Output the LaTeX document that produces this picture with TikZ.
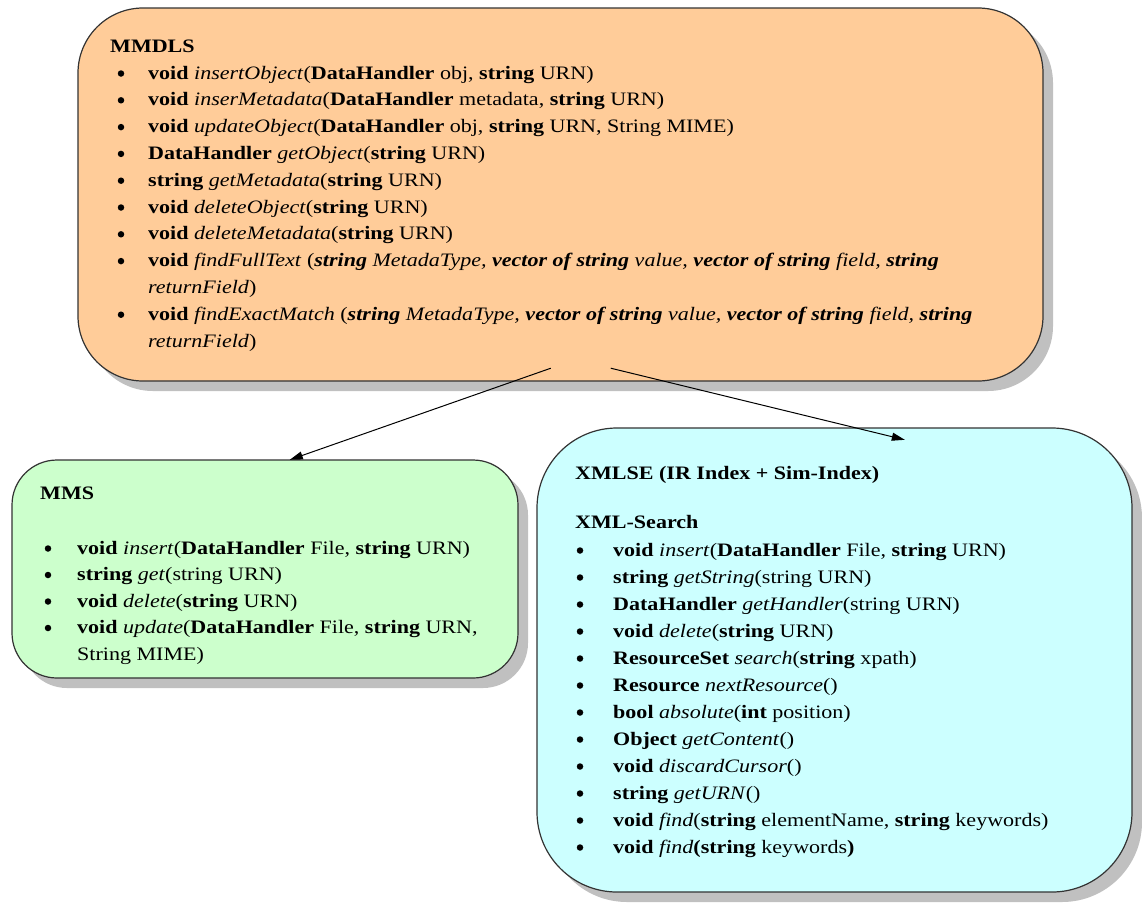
\documentclass[tikz,border=0pt]{standalone}
\usepackage{fontspec}
\setmainfont{Liberation Serif}
\usetikzlibrary{arrows.meta,calc}
\definecolor{peach}{HTML}{FFCC99}
\definecolor{mint}{HTML}{CCFFCC}
\definecolor{aqua}{HTML}{CCFFFF}
\definecolor{shadowgray}{HTML}{C0C0C0}
\definecolor{edge}{HTML}{333333}
\newcommand\myb[1]{\textbf{#1}}
\newcommand\myi[1]{\textit{#1}}
\newcommand\mybi[1]{\textbf{\textit{#1}}}
\newcommand\wide[1]{\scalebox{1.16}[1]{#1}}
\newcommand\bitem[5]{\node[bul] (#1b) at (#2+3,#4-5.5) {}; \node[ln] (#1) at (#3,#4) {\wide{#5}};}
\tikzset{
  box/.style={draw=edge, line width=1.2pt, inner sep=0pt},
  shad/.style={fill=shadowgray, draw=none},
  ln/.style={anchor=base west, inner sep=0pt, font=\fontsize{19}{27}\selectfont},
  bul/.style={circle, fill=black, inner sep=0pt, minimum size=6.5pt},
  conn/.style={line width=1pt, -{Triangle[length=13pt,width=8pt]}},
}
\begin{document}
\begin{tikzpicture}[x=1pt,y=-1pt]
\useasboundingbox (0,0) rectangle (1142,903);
% shadows
\fill[shad, rounded corners=65pt] (88,18) rectangle (1053,391);
\fill[shad, rounded corners=45pt] (22,470) rectangle (528,688);
\fill[shad, rounded corners=80pt] (547,438) rectangle (1142,902);
% boxes
\draw[box, fill=peach, rounded corners=65pt] (78,8) rectangle (1043,381);
\draw[box, fill=mint, rounded corners=45pt] (12,460) rectangle (518,678);
\draw[box, fill=aqua, rounded corners=80pt] (537,428) rectangle (1132,892);
\node[inner sep=0pt, minimum width=965pt, minimum height=373pt] (mmdls) at (560.5,194.5) {};
\node[inner sep=0pt, minimum width=506pt, minimum height=218pt] (mms) at (265,569) {};
\node[inner sep=0pt, minimum width=595pt, minimum height=464pt] (xmlse) at (834.5,660) {};
% MMDLS text
\node[ln] (h1) at (110,52) {\wide{\myb{MMDLS}}};
\bitem{a1}{118}{148}{79}{\myb{void} \myi{insertObject}(\myb{DataHandler} obj, \myb{string} URN)}
\bitem{a2}{118}{148}{105.8}{\myb{void} \myi{inserMetadata}(\myb{DataHandler} metadata, \myb{string} URN)}
\bitem{a3}{118}{148}{132.6}{\myb{void} \myi{updateObject}(\myb{DataHandler} obj, \myb{string} URN, String MIME)}
\bitem{a4}{118}{148}{159.4}{\myb{DataHandler} \myi{getObject}(\myb{string} URN)}
\bitem{a5}{118}{148}{186.2}{\myb{string} \myi{getMetadata}(\myb{string} URN)}
\bitem{a6}{118}{148}{213}{\myb{void} \myi{deleteObject}(\myb{string} URN)}
\bitem{a7}{118}{148}{239.8}{\myb{void} \myi{deleteMetadata}(\myb{string} URN)}
\bitem{a8}{118}{148}{266.6}{\myb{void} \myi{findFullText} (\mybi{string} \myi{MetadaType,} \mybi{vector of string} \myi{value,} \mybi{vector of string} \myi{field,} \mybi{string}}
\node[ln] (a8c) at (148,293.4) {\wide{\myi{returnField})}};
\bitem{a9}{118}{148}{320.2}{\myb{void} \myi{findExactMatch} (\mybi{string} \myi{MetadaType,} \mybi{vector of string} \myi{value,} \mybi{vector of string} \myi{field,} \mybi{string}}
\node[ln] (a9c) at (148,347) {\wide{\myi{returnField})}};
% MMS text
\node[ln] (h2) at (40,499) {\wide{\myb{MMS}}};
\bitem{b1}{45}{77}{554}{\myb{void} \myi{insert}(\myb{DataHandler} File, \myb{string} URN)}
\bitem{b2}{45}{77}{580.5}{\myb{string} \myi{get}(string URN)}
\bitem{b3}{45}{77}{607}{\myb{void} \myi{delete}(\myb{string} URN)}
\bitem{b4}{45}{77}{633.5}{\myb{void} \myi{update}(\myb{DataHandler} File, \myb{string} URN,}
\node[ln] (b4c) at (77,660) {\wide{String MIME)}};
% XMLSE text
\node[ln] (h3) at (575,479) {\wide{\myb{XMLSE (IR Index + Sim-Index)}}};
\node[ln] (h4) at (575,528) {\wide{\myb{XML-Search}}};
\bitem{c1}{577}{613}{556}{\myb{void} \myi{insert}(\myb{DataHandler} File, \myb{string} URN)}
\bitem{c2}{577}{613}{583}{\myb{string} \myi{getString}(string URN)}
\bitem{c3}{577}{613}{610}{\myb{DataHandler} \myi{getHandler}(string URN)}
\bitem{c4}{577}{613}{637}{\myb{void} \myi{delete}(\myb{string} URN)}
\bitem{c5}{577}{613}{664}{\myb{ResourceSet} \myi{search}(\myb{string} xpath)}
\bitem{c6}{577}{613}{691}{\myb{Resource} \myi{nextResource}()}
\bitem{c7}{577}{613}{718}{\myb{bool} \myi{absolute}(\myb{int} position)}
\bitem{c8}{577}{613}{745}{\myb{Object} \myi{getContent}()}
\bitem{c9}{577}{613}{772}{\myb{void} \myi{discardCursor}()}
\bitem{c10}{577}{613}{799}{\myb{string} \myi{getURN}()}
\bitem{c11}{577}{613}{826}{\myb{void} \myi{find}(\myb{string} elementName, \myb{string} keywords)}
\bitem{c12}{577}{613}{853}{\myb{void} \myi{find}\myb{(string} keywords\myb{)}}
% connectors
\coordinate (s1) at ($(mmdls.south west)+(473,-13)$);
\coordinate (s2) at ($(mmdls.south west)+(533,-13)$);
\coordinate (e1) at ($(mms.north west)+(278,0)$);
\coordinate (e2) at ($(xmlse.north west)+(368,12)$);
\draw[conn] (s1) -- (e1);
\draw[conn] (s2) -- (e2);
\end{tikzpicture}
\end{document}
